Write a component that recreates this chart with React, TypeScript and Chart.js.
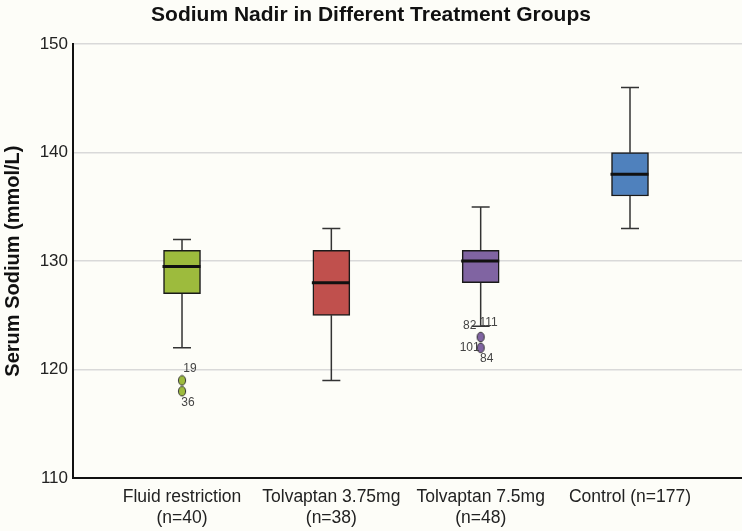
import React, { useEffect, useRef } from 'react';
import { Chart, registerables } from 'chart.js';

Chart.register(...registerables);

const categories: string[][] = [
  ['Fluid restriction', '(n=40)'],
  ['Tolvaptan 3.75mg', '(n=38)'],
  ['Tolvaptan 7.5mg', '(n=48)'],
  ['Control (n=177)'],
];
const whiskerLow = [122, 119, 124, 133];
const q1 = [127, 125, 128, 136];
const median = [129.5, 128, 130, 138];
const q3 = [131, 131, 131, 140];
const whiskerHigh = [132, 133, 135, 146];

const outlierGroup = [0, 0, 2, 2];
const outlierValue = [119, 118, 123, 122];

const outlierLabelText = ['19', '36', '82', '111', '101', '84'];
const outlierLabelGroup = [0, 0, 2, 2, 2, 2];
const outlierLabelValue = [119, 118, 124, 124, 122, 122];
const outlierLabelSide = ['ne', 'se', 'w', 'e', 'w', 'se'];

const yTicks = [110, 120, 130, 140, 150];

const colors = ['#9dbb3d', '#c0504d', '#8064a2', '#4f81bd'];
const FONT = "'Liberation Sans', Arial, sans-serif";
const NARROW = "'Liberation Sans Narrow', 'Liberation Sans', Arial, sans-serif";
const BG = '#fdfdf8';

function makeEllipse(color: string): HTMLCanvasElement {
  const c = document.createElement('canvas');
  c.width = 10;
  c.height = 12;
  const ctx = c.getContext('2d')!;
  ctx.beginPath();
  ctx.ellipse(5, 6, 3.6, 4.8, 0, 0, Math.PI * 2);
  ctx.fillStyle = color;
  ctx.fill();
  ctx.lineWidth = 1;
  ctx.strokeStyle = '#333';
  ctx.stroke();
  return c;
}

const sideOffset: Record<string, [number, number]> = {
  ne: [8, -12],
  se: [6, 11],
  w: [-11, 0],
  e: [8, -3],
};

const boxPlugin = {
  id: 'boxParts',
  beforeDraw(chart: any) {
    const ctx = chart.ctx;
    ctx.save();
    ctx.fillStyle = BG;
    ctx.fillRect(0, 0, chart.width, chart.height);
    ctx.restore();
  },
  beforeDatasetsDraw(chart: any) {
    const ctx = chart.ctx;
    const xs = chart.scales.x;
    const ys = chart.scales.y;
    ctx.save();
    ctx.strokeStyle = '#333';
    ctx.lineWidth = 1.5;
    for (let i = 0; i < categories.length; i++) {
      const x = xs.getPixelForValue(i);
      const yl = ys.getPixelForValue(whiskerLow[i]);
      const yq1 = ys.getPixelForValue(q1[i]);
      const yq3 = ys.getPixelForValue(q3[i]);
      const yh = ys.getPixelForValue(whiskerHigh[i]);
      ctx.beginPath();
      ctx.moveTo(x, yl);
      ctx.lineTo(x, yq1);
      ctx.moveTo(x, yq3);
      ctx.lineTo(x, yh);
      ctx.moveTo(x - 9, yl);
      ctx.lineTo(x + 9, yl);
      ctx.moveTo(x - 9, yh);
      ctx.lineTo(x + 9, yh);
      ctx.stroke();
    }
    ctx.restore();
  },
  afterDatasetsDraw(chart: any) {
    const ctx = chart.ctx;
    const xs = chart.scales.x;
    const ys = chart.scales.y;
    ctx.save();
    ctx.strokeStyle = '#111';
    ctx.lineWidth = 3;
    for (let i = 0; i < categories.length; i++) {
      const x = xs.getPixelForValue(i);
      const ym = ys.getPixelForValue(median[i]);
      ctx.beginPath();
      ctx.moveTo(x - 19.5, ym);
      ctx.lineTo(x + 18.5, ym);
      ctx.stroke();
    }
    ctx.font = `12px ${NARROW}`;
    ctx.fillStyle = '#444';
    ctx.textAlign = 'center';
    ctx.textBaseline = 'middle';
    for (let i = 0; i < outlierLabelText.length; i++) {
      const x = xs.getPixelForValue(outlierLabelGroup[i]);
      const y = ys.getPixelForValue(outlierLabelValue[i]);
      const [dx, dy] = sideOffset[outlierLabelSide[i]];
      ctx.fillText(outlierLabelText[i], x + dx, y + dy);
    }
    ctx.restore();
  },
};

export default function App() {
  const ref = useRef<HTMLCanvasElement>(null);
  useEffect(() => {
    document.body.style.background = BG;
    const ellipses = colors.map((c) => makeEllipse(c));
    const chart = new Chart(ref.current!, {
      type: 'bar',
      data: {
        datasets: [
          {
            type: 'bar',
            data: categories.map((_, i) => ({ x: i, y: [q1[i], q3[i]] })) as any,
            backgroundColor: colors,
            borderColor: '#1a1a1a',
            borderWidth: 1.5,
            borderSkipped: false,
            barThickness: 37,
            order: 2,
          } as any,
          {
            type: 'scatter',
            data: outlierGroup.map((g, i) => ({ x: g, y: outlierValue[i] })),
            pointStyle: outlierGroup.map((g) => ellipses[g]) as any,
            pointRadius: 5,
            order: 1,
          } as any,
        ],
      },
      options: {
        animation: false,
        responsive: false,
        layout: { padding: 0, autoPadding: false },
        plugins: {
          legend: { display: false },
          tooltip: { enabled: false },
          title: {
            display: true,
            text: 'Sodium Nadir in Different Treatment Groups',
            font: { size: 21, weight: 'bold', family: FONT },
            color: '#111',
            padding: { top: 3, bottom: 16 },
          },
        },
        scales: {
          x: {
            type: 'linear',
            offset: false,
            min: -0.73,
            max: 3.75,
            grid: { display: false, drawTicks: false },
            border: { color: '#111', width: 2 },
            afterBuildTicks: (s: any) => {
              s.ticks = categories.map((_, i) => ({ value: i }));
            },
            afterFit: (s: any) => {
              s.height = 53;
              s.paddingLeft = 0;
              s.paddingRight = 0;
            },
            ticks: {
              callback: (v: any) => categories[v as number],
              font: { size: 17.5, family: FONT, lineHeight: 1.2 },
              color: '#222',
              padding: 9,
              maxRotation: 0,
              autoSkip: false,
            },
          } as any,
          y: {
            type: 'linear',
            min: yTicks[0],
            max: yTicks[yTicks.length - 1],
            afterBuildTicks: (s: any) => {
              s.ticks = yTicks.map((v) => ({ value: v }));
            },
            afterFit: (s: any) => {
              s.width = 73;
            },
            grid: { color: '#d9d9d9', lineWidth: 1.5, drawTicks: false },
            border: { color: '#111', width: 2 },
            ticks: {
              font: { size: 17, family: FONT },
              color: '#222',
              padding: 5,
            },
            title: {
              display: true,
              text: 'Serum Sodium (mmol/L)',
              font: { size: 20, weight: 'bold', family: FONT },
              color: '#111',
              padding: { top: 1, bottom: 0 },
            },
          } as any,
        },
      },
      plugins: [boxPlugin],
    });
    return () => chart.destroy();
  }, []);
  return (
    <div style={{ position: 'absolute', left: 0, top: 0, width: 742, height: 531 }}>
      <canvas ref={ref} width={742} height={531} style={{ display: 'block' }} />
    </div>
  );
}
